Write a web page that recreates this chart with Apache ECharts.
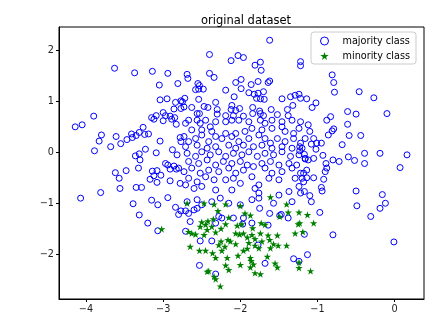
<!DOCTYPE html>
<html>
<head>
<meta charset="utf-8">
<script src="https://cdn.jsdelivr.net/npm/echarts@6/dist/echarts.min.js"></script>
<style>
  html, body { margin: 0; padding: 0; background: #fff; }
  #chart { width: 447px; height: 330px; }
</style>
</head>
<body>
<div id="chart"></div>
<script>
// tick labels
const xTicks = [-4, -3, -2, -1, 0];
const yTicks = [-2, -1, 0, 1, 2];
const seriesNames = ['majority class', 'minority class'];

// majority class points [x, y]
const majorityPoints = [
  [-3.63,1.65],[-3.37,1.56],[-3.14,1.59],[-2.94,1.55],[-3.05,1.32],[-2.81,1.35],[-3.04,1.03],[-2.95,1.05],
  [-2.84,0.98],[-2.86,0.85],[-2.77,1.01],[-3.90,0.71],[-3.15,0.68],[-3.09,0.72],[-3.00,0.78],[-2.97,0.72],
  [-2.91,0.71],[-2.85,0.68],[-2.77,0.86],
  [-1.62,2.20],[-2.40,1.92],[-2.03,1.90],[-1.96,1.86],[-2.12,1.80],[-1.81,1.71],[-1.74,1.77],[-1.73,1.61],
  [-1.22,1.78],[-1.22,1.70],[-2.69,1.53],[-2.68,1.45],[-2.40,1.55],[-2.34,1.47],[-2.06,1.37],[-1.99,1.43],
  [-1.99,1.25],[-1.86,1.33],[-1.77,1.39],[-1.64,1.37],[-1.62,1.40],[-2.55,1.35],[-2.53,1.31],[-2.58,1.23],
  [-2.54,1.24],[-2.48,1.24],[-2.19,1.22],[-1.89,1.17],[-1.82,1.14],[-1.77,1.16],[-1.70,1.19],[-1.79,1.06],
  [-1.74,1.05],[-1.69,1.04],[-2.08,1.09],[-1.46,1.05],[-1.35,1.09],[-1.29,1.12],[-1.24,1.14],[-1.22,1.06],
  [-1.14,1.05],[-2.72,1.06],[-2.75,0.99],[-2.54,1.04],[-2.32,0.98],[-2.73,0.89],[-2.63,0.88],[-2.47,0.90],
  [-2.42,0.88],[-2.11,0.92],[-2.12,0.84],[-2.06,0.82],[-2.01,0.86],[-2.30,0.84],[-2.30,0.75],[-2.56,0.76],
  [-2.53,0.76],[-1.84,0.88],[-1.75,0.81],[-1.74,0.76],[-1.84,0.76],[-1.60,0.84],[-1.39,0.84],[-1.32,0.92],
  [-1.52,0.74],[-1.38,0.72],[-2.19,0.72],[-2.09,0.72],[-1.96,0.71],[-1.70,0.72],
  [-0.81,1.52],[-0.79,1.37],[-0.78,1.18],[-0.46,1.19],[-0.27,1.07],[-1.02,0.97],[-1.07,0.88],[-0.61,0.80],
  [-0.50,0.75],[-0.10,0.76],[-0.83,0.70],
  [-4.14,0.50],[-4.05,0.54],[-3.80,0.34],[-3.83,0.22],[-3.89,0.03],[-3.68,0.11],[-3.61,0.31],[-3.55,0.17],
  [-3.47,0.25],[-3.41,0.36],[-3.40,0.29],[-3.35,0.33],[-3.31,0.39],[-3.26,0.49],[-3.24,0.35],[-3.19,0.36],
  [-3.12,0.65],[-3.00,0.62],[-2.89,0.65],[-2.83,0.55],[-3.04,0.22],[-3.23,0.06],[-3.36,-0.07],[-3.31,-0.03],
  [-3.30,-0.15],[-3.09,-0.01],[-2.88,0.05],[-2.82,-0.05],[-2.78,0.29],[-2.77,0.21],[-2.97,-0.22],[-2.94,-0.25],
  [-2.86,-0.27],[-2.80,-0.31],[-2.91,-0.33],[-2.83,-0.33],[-3.32,-0.31],[-3.48,-0.36],[-3.62,-0.40],[-3.57,-0.51],
  [-3.14,-0.37],[-3.08,-0.36],[-3.12,-0.46],[-3.03,-0.45],[-3.17,-0.53],[-3.08,-0.59],[-2.91,-0.56],[-2.78,-0.61],
  [-3.56,-0.71],[-3.35,-0.69],[-3.28,-0.69],[-3.81,-0.79],[-4.07,-0.90],[-3.39,-1.01],[-3.15,-0.94],[-3.07,-1.03],
  [-2.94,-0.89],[-2.84,-1.08],
  [-2.71,0.57],[-2.67,0.63],[-2.56,0.63],[-2.52,0.57],[-2.45,0.63],[-2.39,0.50],[-2.32,0.60],[-2.19,0.60],
  [-2.11,0.63],[-2.02,0.63],[-1.89,0.60],[-1.74,0.63],[-1.68,0.57],[-1.59,0.63],[-1.46,0.60],[-1.33,0.63],
  [-1.22,0.60],[-1.46,0.50],[-1.24,0.47],[-2.63,0.44],[-2.50,0.44],[-2.37,0.41],[-2.19,0.37],[-2.06,0.37],
  [-1.94,0.41],[-1.85,0.47],[-1.72,0.44],[-1.59,0.47],[-1.42,0.41],[-1.31,0.37],
  [-2.73,0.31],[-2.67,0.21],[-2.58,0.27],[-2.50,0.34],[-2.41,0.21],[-2.32,0.31],[-2.24,0.27],[-2.11,0.31],
  [-2.02,0.21],[-1.89,0.27],[-1.76,0.34],[-1.68,0.27],[-1.61,0.18],[-1.52,0.27],[-1.42,0.21],[-1.31,0.27],
  [-1.22,0.18],[-1.16,0.27],[-2.71,0.11],[-2.56,0.14],[-2.43,0.08],[-2.32,0.11],[-2.15,0.14],[-2.06,0.08],
  [-1.96,0.14],[-1.83,0.11],[-1.72,0.14],[-1.59,0.08],[-1.46,0.11],[-1.33,0.08],[-1.20,0.08],
  [-2.69,-0.02],[-2.58,-0.08],[-2.50,0.01],[-2.39,-0.05],[-2.28,0.01],[-2.19,-0.08],[-2.09,-0.02],[-1.98,-0.05],
  [-1.89,0.01],[-1.78,-0.08],[-1.68,-0.02],[-1.57,-0.05],[-1.46,0.01],[-1.35,-0.08],[-1.24,-0.05],[-1.16,-0.12],
  [-2.67,-0.18],[-2.54,-0.22],[-2.43,-0.15],[-2.32,-0.25],[-2.22,-0.18],[-2.11,-0.22],[-2.00,-0.18],[-1.91,-0.25],
  [-1.83,-0.28],[-1.72,-0.22],[-1.61,-0.18],[-1.50,-0.25],[-1.37,-0.22],[-1.27,-0.25],
  [-2.73,-0.38],[-2.63,-0.31],[-2.52,-0.41],[-2.41,-0.35],[-2.28,-0.38],[-2.15,-0.31],[-2.06,-0.41],[-1.96,-0.35],
  [-1.85,-0.48],[-1.68,-0.31],[-1.59,-0.41],[-1.46,-0.38],[-1.33,-0.31],[-1.22,-0.41],[-2.67,-0.51],[-2.56,-0.58],
  [-2.45,-0.48],[-2.34,-0.54],[-2.19,-0.54],[-2.09,-0.51],[-2.00,-0.61],[-1.76,-0.64],[-1.63,-0.51],[-1.50,-0.54],
  [-1.29,-0.51],[-1.18,-0.58],
  [-2.71,-0.64],[-2.60,-0.71],[-2.50,-0.67],[-2.32,-0.74],[-2.11,-0.74],[-1.81,-0.71],[-1.76,-0.80],[-1.50,-0.84],
  [-1.37,-0.77],[-1.24,-0.67],[-2.69,-0.97],[-2.56,-0.93],[-2.50,-1.03],[-2.37,-0.97],[-2.26,-0.90],[-2.15,-1.00],
  [-2.00,-1.03],[-1.85,-0.93],[-1.76,-0.90],[-1.57,-1.00],[-1.33,-0.97],[-1.22,-0.80],
  [-1.12,0.54],[-1.10,0.41],[-1.05,0.27],[-0.88,0.63],[-0.81,0.42],[-0.79,0.46],[-0.86,0.34],[-0.61,0.55],
  [-0.59,0.33],[-0.44,0.33],[-0.68,0.15],[-1.08,0.16],[-1.01,0.18],[-0.95,0.18],[-1.02,0.06],[-1.23,0.11],
  [-1.23,0.03],[-1.17,-0.04],[-1.16,-0.13],[-1.12,-0.15],[-1.05,-0.12],[-0.93,-0.06],[-0.89,-0.22],[-0.88,-0.31],
  [-0.80,-0.15],[-0.72,-0.18],[-0.60,-0.09],[-0.52,-0.16],[-0.39,-0.02],[-0.39,-0.22],[-0.19,-0.02],[0.16,-0.05],
  [0.07,-0.30],[-1.18,-0.41],[-1.14,-0.35],[-1.20,-0.51],[-1.14,-0.50],[-1.05,-0.50],[-0.90,-0.38],[-0.92,-0.53],
  [-0.95,-0.69],[-0.94,-0.76],[-1.17,-0.77],[-1.10,-0.85],[-1.08,-0.97],[-0.50,-0.76],[-0.16,-0.83],[-0.12,-1.00],
  [-0.49,-1.05],[-0.19,-1.10],
  [-3.31,-1.23],[-3.20,-1.39],[-3.07,-1.54],[-2.80,-1.22],[-2.77,-1.15],
  [-2.71,-1.15],[-2.67,-1.20],[-2.60,-1.13],[-2.56,-1.10],[-2.65,-1.36],[-2.71,-1.55],[-2.28,-1.26],[-2.24,-1.29],
  [-2.32,-1.39],[-2.09,-1.29],[-1.96,-1.29],[-1.97,-1.41],[-1.85,-1.39],[-1.75,-1.10],[-1.62,-1.20],[-1.64,-1.43],
  [-1.49,-1.24],[-1.47,-1.22],[-1.38,-1.29],[-2.52,-1.74],[-2.37,-1.74],[-1.77,-1.82],[-1.68,-2.18],[-1.31,-2.09],
  [-1.24,-2.14],[-2.53,-2.22],[-2.32,-2.39],
  [-0.97,-1.18],[-0.31,-1.26],[-1.17,-1.61],[-0.80,-1.62],[-0.01,-1.76],[-1.13,-2.01]
];

// minority class points [x, y]
const minorityPoints = [
  [-2.69,-1.00],[-2.47,-1.00],[-2.34,-1.02],[-2.19,-1.02],[-2.00,-1.05],[-1.61,-0.88],[-1.40,-1.02],
  [-3.02,-1.51],
  [-2.29,-1.15],[-2.15,-1.28],[-1.94,-1.20],[-1.87,-1.24],[-1.38,-1.18],[-1.24,-1.18],[-1.49,-1.26],
  [-2.50,-1.37],[-2.45,-1.42],[-2.52,-1.46],[-2.42,-1.35],[-2.35,-1.31],[-2.37,-1.46],[-2.43,-1.52],[-2.47,-1.62],
  [-2.32,-1.57],[-2.25,-1.50],[-2.19,-1.41],[-2.04,-1.44],[-1.98,-1.41],[-1.84,-1.49],[-1.73,-1.39],[-1.68,-1.42],
  [-1.74,-1.59],[-1.85,-1.62],[-1.96,-1.59],[-2.06,-1.59],[-2.01,-1.61],[-1.91,-1.67],[-1.81,-1.70],[-1.64,-1.63],
  [-1.52,-1.63],[-1.29,-1.59],[-1.19,-1.56],[-1.25,-1.41],[-2.63,-1.59],[-2.58,-1.61],[-2.67,-1.56],
  [-2.16,-1.72],[-2.13,-1.75],[-2.25,-1.75],[-2.28,-1.82],[-2.20,-1.85],[-2.06,-1.80],[-1.89,-1.78],[-1.81,-1.83],
  [-1.72,-1.75],[-1.62,-1.72],[-1.57,-1.80],[-1.51,-1.83],[-1.40,-1.83],[-2.65,-1.85],[-2.53,-1.93],[-2.45,-1.93],
  [-2.36,-1.98],[-2.24,-1.93],[-1.96,-1.93],[-1.91,-1.89],[-1.76,-1.88],[-1.61,-1.88],
  [-2.32,-2.07],[-2.17,-2.07],[-2.03,-2.03],[-1.87,-2.07],[-1.86,-2.13],[-2.00,-2.21],[-2.15,-2.31],[-2.19,-2.22],
  [-1.87,-2.26],[-1.83,-2.20],[-1.65,-2.05],[-1.55,-2.18],[-1.52,-2.26],[-1.24,-2.27],[-1.24,-2.16],
  [-2.41,-2.33],[-2.34,-2.44],[-2.32,-2.49],[-2.26,-2.63],[-1.81,-2.37],[-1.74,-2.39],[-2.43,-2.34],
  [-1.13,-1.23],[-1.05,-1.39],[-1.23,-1.39],[-1.09,-2.33]
];

const starPath = 'path://M100,0 L122.45,69.1 L195.1,69.1 L136.3,111.8 L158.8,180.9 L100,138.2 L41.2,180.9 L63.7,111.8 L4.9,69.1 L77.55,69.1 Z';

const fmt = v => (v < 0 ? '\u2212' + Math.abs(v) : String(v));
const font = 'DejaVu Sans';

const chart = echarts.init(document.getElementById('chart'), null, { renderer: 'canvas' });
chart.setOption({
  animation: false,
  backgroundColor: '#fff',
  title: {
    text: 'original dataset',
    left: 241, top: 10, textAlign: 'center',
    textStyle: { fontFamily: font, fontSize: 11.5, fontWeight: 'normal', color: '#000' }
  },
  grid: {
    left: 59, right: 23, top: 27, bottom: 31,
    show: true, borderColor: '#000', borderWidth: 1, backgroundColor: '#fff'
  },
  xAxis: {
    type: 'value', min: -4.35, max: 0.38,
    axisLine: { show: true, onZero: false, lineStyle: { color: '#000', width: 1 } },
    axisTick: { show: true, length: 3, customValues: xTicks, lineStyle: { color: '#000' } },
    axisLabel: { customValues: xTicks, formatter: fmt, margin: 5,
      fontFamily: font, fontSize: 9.7, color: '#222' },
    splitLine: { show: false }
  },
  yAxis: {
    type: 'value', min: -2.88, max: 2.46,
    axisLine: { show: true, onZero: false, lineStyle: { color: '#000', width: 1 } },
    axisTick: { show: true, length: 3, customValues: yTicks, lineStyle: { color: '#000' } },
    axisLabel: { customValues: yTicks, formatter: fmt, margin: 5,
      fontFamily: font, fontSize: 9.7, color: '#222' },
    splitLine: { show: false }
  },
  legend: {
    orient: 'vertical', left: 311, top: 32,
    padding: [4, 6, 3, 9], itemGap: 5, itemWidth: 10, itemHeight: 8,
    backgroundColor: 'rgba(255,255,255,0.8)', borderColor: '#ccc', borderWidth: 1, borderRadius: 3,
    textStyle: { fontFamily: font, fontSize: 9.7, color: '#000', padding: [0, 0, 0, 8] },
    data: [
      { name: seriesNames[0], icon: 'circle',
        itemStyle: { color: 'rgba(0,0,0,0)', borderColor: '#0000ff', borderWidth: 1 } },
      { name: seriesNames[1], icon: starPath,
        itemStyle: { color: '#008000', borderWidth: 0 } }
    ]
  },
  series: [
    {
      name: seriesNames[0], type: 'scatter', data: majorityPoints,
      symbol: 'circle', symbolSize: 6,
      itemStyle: { color: 'rgba(0,0,0,0)', borderColor: '#0000ff', borderWidth: 1, opacity: 1 }
    },
    {
      name: seriesNames[1], type: 'scatter', data: minorityPoints,
      symbol: starPath, symbolSize: [7.5, 7.2],
      itemStyle: { color: '#008000', opacity: 1 }
    }
  ]
});
</script>
</body>
</html>
